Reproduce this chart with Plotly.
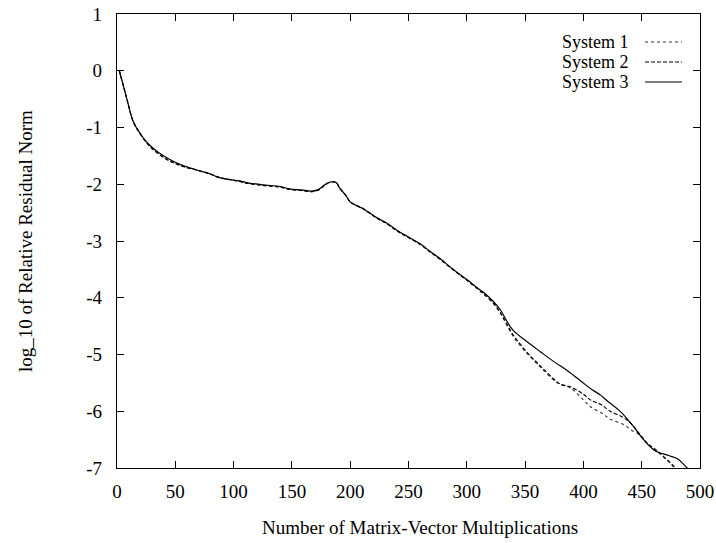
import plotly.graph_objects as go

# ---- data ----
sys3_x = [2, 8, 14, 20, 27, 35, 45, 54, 64, 72, 80, 86, 97, 105, 111, 125, 140, 148, 158, 167,
          173, 178, 183, 188, 191, 196, 200, 208, 211, 223, 231, 240, 250, 260, 269, 277, 289,
          300, 310, 314, 323, 329, 334, 340, 352, 363, 375, 386, 398, 406, 415, 420, 432, 441,
          452, 461, 473, 481, 489, 495]
sys3_y = [0, -0.46, -0.90, -1.11, -1.29, -1.43, -1.56, -1.65, -1.72, -1.77, -1.82, -1.87, -1.92,
          -1.94, -1.97, -2.01, -2.04, -2.08, -2.10, -2.12, -2.09, -2.01, -1.96, -1.97, -2.07,
          -2.19, -2.31, -2.40, -2.43, -2.59, -2.68, -2.81, -2.93, -3.05, -3.19, -3.31, -3.51,
          -3.68, -3.84, -3.90, -4.07, -4.22, -4.40, -4.58, -4.78, -4.95, -5.13, -5.28, -5.47,
          -5.60, -5.72, -5.81, -6.01, -6.22, -6.51, -6.69, -6.78, -6.84, -7.00, -7.10]

sys2_x = [2, 8, 14, 20, 27, 35, 45, 54, 64, 72, 80, 86, 97, 105, 111, 125, 140, 148, 158, 167,
          173, 178, 183, 188, 191, 196, 200, 208, 211, 223, 231, 240, 250, 260, 269, 277, 289,
          300, 310, 314, 323, 329, 334, 340, 352, 363, 375, 380, 389, 400, 406, 415, 423, 435,
          441, 449, 455, 463, 470, 478, 482]
sys2_y = [0, -0.46, -0.90, -1.12, -1.31, -1.46, -1.59, -1.67, -1.73, -1.77, -1.82, -1.87, -1.92,
          -1.95, -1.98, -2.02, -2.05, -2.09, -2.11, -2.13, -2.10, -2.02, -1.96, -1.97, -2.07,
          -2.19, -2.31, -2.40, -2.43, -2.60, -2.69, -2.82, -2.94, -3.06, -3.20, -3.32, -3.52,
          -3.69, -3.85, -3.92, -4.10, -4.27, -4.45, -4.66, -4.97, -5.20, -5.44, -5.52, -5.57,
          -5.70, -5.80, -5.88, -6.00, -6.12, -6.22, -6.42, -6.57, -6.69, -6.82, -6.98, -7.10]

sys1_x = [2, 8, 14, 20, 27, 35, 45, 54, 64, 72, 80, 86, 97, 105, 111, 125, 140, 148, 158, 167,
          173, 178, 183, 188, 191, 196, 200, 208, 211, 223, 231, 240, 250, 260, 269, 277, 289,
          300, 310, 314, 323, 329, 334, 340, 352, 363, 375, 380, 389, 400, 406, 417, 423, 435,
          441, 449, 455, 465, 475, 480]
sys1_y = [0, -0.46, -0.90, -1.11, -1.30, -1.45, -1.58, -1.66, -1.73, -1.77, -1.82, -1.87, -1.92,
          -1.95, -1.98, -2.02, -2.05, -2.09, -2.11, -2.13, -2.10, -2.02, -1.96, -1.97, -2.07,
          -2.19, -2.31, -2.40, -2.43, -2.60, -2.69, -2.82, -2.94, -3.06, -3.20, -3.32, -3.52,
          -3.69, -3.86, -3.93, -4.11, -4.28, -4.47, -4.69, -4.99, -5.22, -5.46, -5.53, -5.59,
          -5.80, -5.92, -6.05, -6.14, -6.24, -6.33, -6.43, -6.57, -6.74, -6.93, -7.05]

series_names = ["System 1", "System 2", "System 3"]
x_ticks = [0, 50, 100, 150, 200, 250, 300, 350, 400, 450, 500]
y_ticks = [1, 0, -1, -2, -3, -4, -5, -6, -7]

FONT = "Liberation Serif, Times New Roman, serif"
W, H = 716, 543
ML, MR, MT, MB = 117, 16, 14, 75
PW, PH = W - ML - MR, H - MT - MB

styles = [dict(dash="dot", width=1.1, color="#333333"),
          dict(dash="4px,2px", width=1.1, color="black"),
          dict(dash="solid", width=1.2, color="black")]

fig = go.Figure()
for name, xs, ys, st in zip(series_names, [sys1_x, sys2_x, sys3_x],
                            [sys1_y, sys2_y, sys3_y], styles):
    fig.add_trace(go.Scatter(x=xs, y=ys, mode="lines", name=name, line=st,
                             line_shape="spline", showlegend=False))

axis_common = dict(showline=True, linecolor="black", linewidth=1.2, mirror="ticks",
                   ticks="inside", ticklen=7, tickwidth=1, tickcolor="black",
                   showgrid=False, zeroline=False, automargin=False,
                   tickfont=dict(family=FONT, size=19, color="black"))

fig.update_xaxes(range=[0, 500], tickvals=x_ticks, ticktext=[str(v) for v in x_ticks],
                 ticklabelstandoff=6, **axis_common)
fig.update_yaxes(range=[-7, 1], tickvals=y_ticks, ticktext=[str(v) for v in y_ticks],
                 ticklabelstandoff=10, **axis_common)

def px2paper(px, py):
    return (px - ML) / PW, (MT + PH - py) / PH

annotations = []
shapes = []
# axis titles
ax_x, ax_y = px2paper(420, 527)
annotations.append(dict(text="Number of Matrix-Vector Multiplications", xref="paper", yref="paper",
                        x=ax_x, y=ax_y, showarrow=False, xanchor="center", yanchor="middle",
                        font=dict(family=FONT, size=19, color="black")))
ay_x, ay_y = px2paper(25, 241)
annotations.append(dict(text="log_10 of Relative Residual Norm", xref="paper", yref="paper",
                        x=ay_x, y=ay_y, showarrow=False, textangle=-90, xanchor="center",
                        yanchor="middle", font=dict(family=FONT, size=19, color="black")))

# gnuplot-style key: text then sample
key_rows = [42, 62, 82]
for name, st, py in zip(series_names, styles, key_rows):
    tx, ty = px2paper(631, py)
    annotations.append(dict(text=name, xref="paper", yref="paper", x=tx, y=ty, showarrow=False,
                            xanchor="right", yanchor="middle",
                            font=dict(family=FONT, size=18, color="black")))
    x0, y0 = px2paper(645, py)
    x1, _ = px2paper(682, py)
    shapes.append(dict(type="line", xref="paper", yref="paper", x0=x0, x1=x1, y0=y0, y1=y0,
                       line=dict(color=st["color"], width=st["width"], dash=st["dash"])))

fig.update_layout(width=W, height=H, margin=dict(l=ML, r=MR, t=MT, b=MB, autoexpand=False),
                  plot_bgcolor="white", paper_bgcolor="white",
                  annotations=annotations, shapes=shapes, showlegend=False)

fig.write_html("out.html", config={"displayModeBar": False},
               post_script="document.body.style.margin='0';document.body.style.overflow='hidden';")
